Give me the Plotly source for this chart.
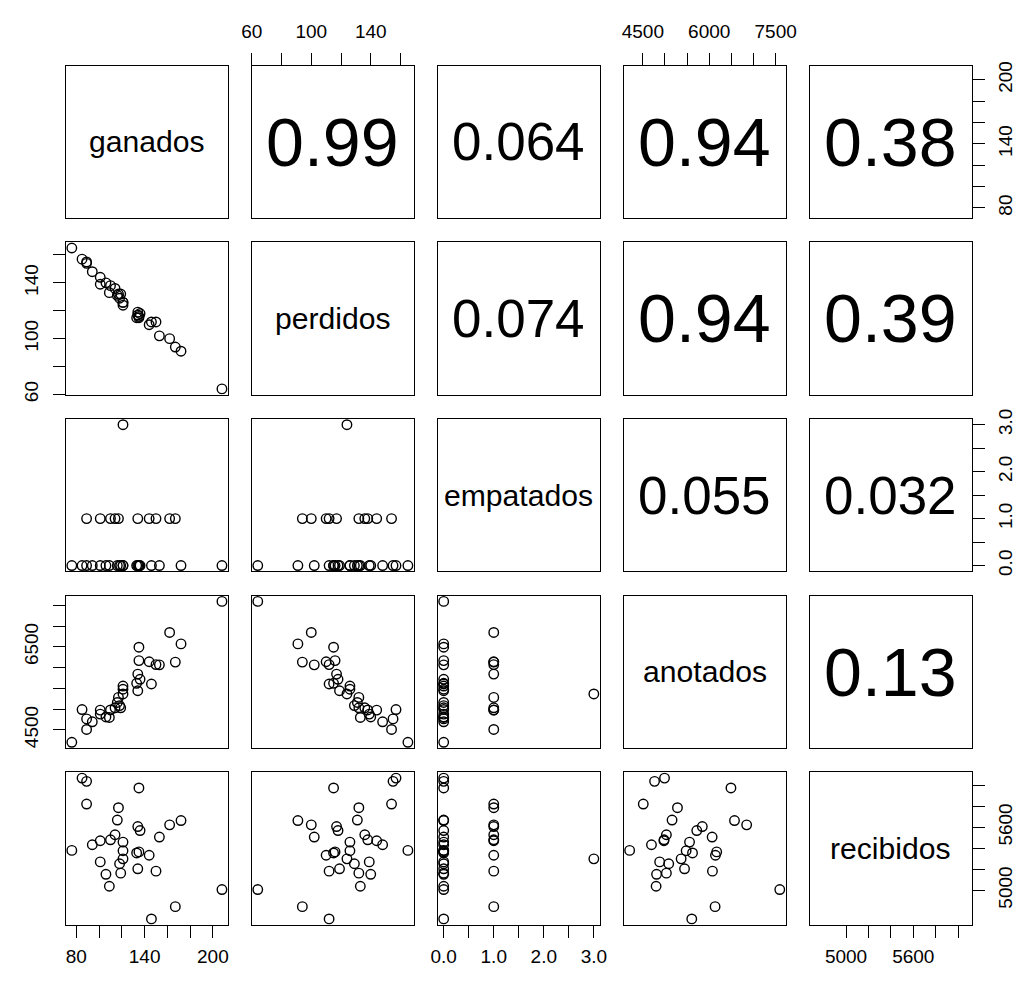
import plotly.graph_objects as go

# ---- data: one entry per team ------------------------------------------
variables = ["ganados", "perdidos", "empatados", "anotados", "recibidos"]

ganados = [85, 89, 135, 89, 117, 116, 172, 162, 134, 136, 153, 114, 110, 101, 94, 121,
           76, 121, 133, 135, 144, 121, 101, 118, 134, 150, 119, 106, 109, 208, 167, 146]
perdidos = [157, 155, 115, 154, 132, 131, 91, 100, 117, 118, 102, 136, 138, 144, 148, 126,
            165, 126, 115, 116, 110, 124, 139, 129, 119, 112, 132, 140, 133, 64, 94, 112]
empatados = [0, 0, 0, 1, 1, 0, 0, 1, 1, 0, 0, 1, 1, 1, 0, 0,
             0, 0, 0, 0, 1, 3, 0, 0, 0, 1, 0, 0, 0, 0, 1, 0]
anotados = [4990, 4765, 6490, 4510, 5282, 5160, 6570, 6845, 5843, 5718, 6065, 5032, 4980, 4976, 4695, 5555,
            4202, 5478, 5622, 6168, 6140, 5365, 4880, 5085, 5442, 6072, 5032, 4810, 4800, 7593, 6132, 5605]
recibidos = [6068, 6037, 5974, 5821, 5786, 5669, 5664, 5623, 5607, 5569, 5507, 5529, 5481, 5472, 5434, 5459,
             5380, 5377, 5356, 5366, 5334, 5300, 5271, 5253, 5205, 5183, 5164, 5153, 5039, 5008, 4845, 4728]

# absolute correlations shown in the upper triangle (row-major order)
cor_text = ["0.99", "0.064", "0.94", "0.38",
            "0.074", "0.94", "0.39",
            "0.055", "0.032",
            "0.13"]

# axis ticks and the labels that are printed at them
tick_vals = [
    [80, 100, 120, 140, 160, 180, 200],
    [60, 80, 100, 120, 140, 160],
    [0, 0.5, 1, 1.5, 2, 2.5, 3],
    [4500, 5000, 5500, 6000, 6500, 7000, 7500],
    [5000, 5200, 5400, 5600, 5800, 6000],
]
tick_text_h = [
    ["80", "", "", "140", "", "", "200"],
    ["60", "", "100", "", "140", ""],
    ["0.0", "", "1.0", "", "2.0", "", "3.0"],
    ["4500", "", "", "6000", "", "", "7500"],
    ["5000", "", "", "5600", "", ""],
]
tick_text_v = [
    ["80", "", "", "140", "", "", "200"],
    ["60", "", "100", "", "140", ""],
    ["0.0", "", "1.0", "", "2.0", "", "3.0"],
    ["4500", "", "", "", "6500", "", ""],
    ["5000", "", "", "5600", "", ""],
]

# ---- layout geometry (pixels) --------------------------------------------
W, H = 1030, 981
PW, PH = 165.7, 155.0
LEFT0, TOP0 = 56.0, 56.7
XSTEP, YSTEP = 190.0, 180.0
FONT = "Liberation Sans, Arial, sans-serif"
TICK_SIZE = 19
TICK_LEN = 12

# Helvetica/Arial advance widths (em) used to size panel text
EM = {"0": .556, "1": .556, "2": .556, "3": .556, "4": .556, "5": .556, "6": .556,
      "7": .556, "8": .556, "9": .556, ".": .278, "g": .556, "a": .556, "n": .556,
      "d": .556, "o": .556, "s": .5, "p": .556, "e": .556, "r": .333, "i": .222,
      "m": .833, "t": .278, "c": .5, "b": .556}


def em_width(s):
    return sum(EM.get(ch, .556) for ch in s)


def padded(v):
    lo, hi = min(v), max(v)
    d = (hi - lo) * 0.04
    return [lo - d, hi + d]


data = [ganados, perdidos, empatados, anotados, recibidos]
ranges = [padded(v) for v in data]
n = len(variables)

label_size = 0.9 * PW / max(em_width(v) for v in variables)

fig = go.Figure()
layout = {}
annotations = []
cor_iter = iter(cor_text)

for r in range(n):
    for c in range(n):
        k = r * n + c + 1
        sfx = "" if k == 1 else str(k)
        x0 = LEFT0 + c * XSTEP
        y0 = TOP0 + r * YSTEP
        base = dict(showline=True, mirror=True, linecolor="black", linewidth=1,
                    showgrid=False, zeroline=False, ticks="", showticklabels=False,
                    fixedrange=True,
                    tickfont=dict(family=FONT, size=TICK_SIZE, color="black"),
                    ticklen=TICK_LEN, tickwidth=1, tickcolor="black")
        xax = dict(base, domain=[x0 / W, (x0 + PW) / W], range=ranges[c], anchor="y" + sfx)
        yax = dict(base, domain=[1 - (y0 + PH) / H, 1 - y0 / H], range=ranges[r], anchor="x" + sfx)

        if r == 0 and c % 2 == 1:
            xax.update(side="top", ticks="outside", showticklabels=True,
                       tickvals=tick_vals[c], ticktext=tick_text_h[c], ticklabelstandoff=7)
        if r == n - 1 and c % 2 == 0:
            xax.update(side="bottom", ticks="outside", showticklabels=True,
                       tickvals=tick_vals[c], ticktext=tick_text_h[c], ticklabelstandoff=3)
        if c == 0 and r % 2 == 1:
            yax.update(side="left", ticks="outside", showticklabels=True, tickangle=-90,
                       tickvals=tick_vals[r], ticktext=tick_text_v[r], ticklabelstandoff=7)
        if c == n - 1 and r % 2 == 0:
            yax.update(side="right", ticks="outside", showticklabels=True, tickangle=-90,
                       tickvals=tick_vals[r], ticktext=tick_text_v[r], ticklabelstandoff=4)

        layout["xaxis" + sfx] = xax
        layout["yaxis" + sfx] = yax

        if r > c:
            fig.add_trace(go.Scatter(
                x=data[c], y=data[r], mode="markers", xaxis="x" + sfx, yaxis="y" + sfx,
                marker=dict(symbol="circle-open", size=9.5, color="black", line=dict(width=1.4)),
                showlegend=False, hoverinfo="skip"))
        else:
            fig.add_trace(go.Scatter(x=[], y=[], xaxis="x" + sfx, yaxis="y" + sfx,
                                     showlegend=False, hoverinfo="skip"))
            if r == c:
                txt, size = variables[r], label_size
            else:
                txt = next(cor_iter)
                size = 0.8 * PW / em_width(txt)
            annotations.append(dict(
                text=txt, x=0.5, y=0.5, xref="x" + sfx + " domain", yref="y" + sfx + " domain",
                showarrow=False, xanchor="center", yanchor="middle",
                font=dict(family=FONT, size=size, color="black")))

fig.update_layout(
    width=W, height=H, margin=dict(l=0, r=0, t=0, b=0),
    paper_bgcolor="white", plot_bgcolor="white",
    annotations=annotations, **layout)

fig.write_html("out.html")
